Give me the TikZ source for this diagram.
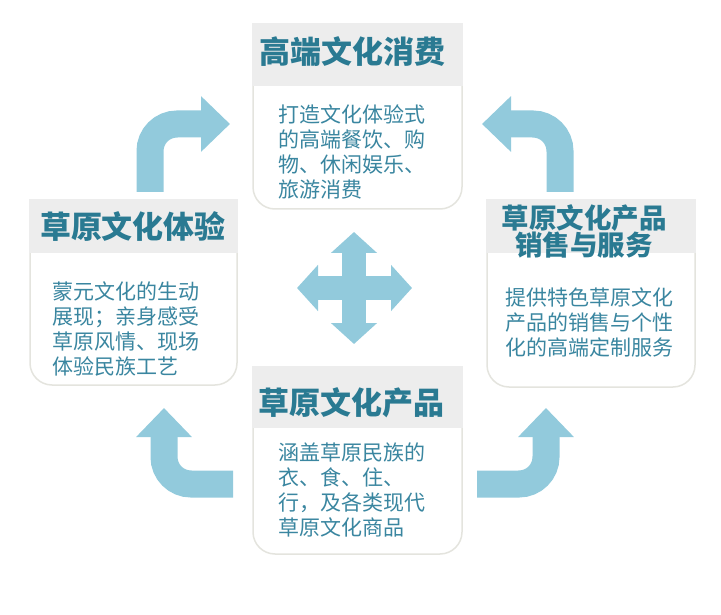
\documentclass[tikz,border=0pt]{standalone}
\usepackage{fontspec}
\newfontfamily\cjk{Noto Sans CJK SC}
\usetikzlibrary{arrows.meta}
\definecolor{headgray}{RGB}{237,237,237}
\definecolor{edgegray}{RGB}{228,228,222}
\definecolor{titleteal}{RGB}{42,122,146}
\definecolor{bodyteal}{RGB}{58,134,160}
\definecolor{flowblue}{RGB}{146,202,220}

\begin{document}
\begin{tikzpicture}[x=1pt,y=-1pt,
    card/.style={draw=edgegray, line width=1.5pt, fill=white, rounded corners=22pt},
    head/.style={fill=headgray},
    title/.style={text=titleteal, inner sep=0pt, align=center, font=\cjk\bfseries\fontsize{31}{35}\selectfont},
    body/.style={text=bodyteal, inner sep=0pt, align=left, anchor=base west, font=\cjk\fontsize{21}{25}\selectfont},
    flow/.style={draw=flowblue, line width=27pt, rounded corners=27pt, -{Triangle[width=54pt,length=29pt]}},
    cross/.style={draw=flowblue, line width=24pt, {Triangle[width=45pt,length=21pt]}-{Triangle[width=45pt,length=21pt]}}]
        \useasboundingbox (0,0) rectangle (721,615);

        \coordinate (n) at (354,232);
        \coordinate (s) at (354,344);
        \coordinate (w) at (297,288);
        \coordinate (e) at (412,288);

        % curved arrows round the cards
        \draw[flow] (150,192) |- (230,124);
        \draw[flow] (560,192) |- (482,124);
        \draw[flow] (233,484) -| (164,408);
        \draw[flow] (477,484) -| (546,408);

        % four-way arrow in the middle
        \draw[cross] (n) -- (s);
        \draw[cross] (w) -- (e);

        % cards
        \draw[card] (253,24) rectangle (462,209);
        \fill[head] (252.2,23.2) rectangle (462.8,86);
        \draw[card] (30,200) rectangle (237,385);
        \fill[head] (29.2,199.2) rectangle (237.8,253);
        \draw[card] (487,200) rectangle (695,387);
        \fill[head] (486.2,199.2) rectangle (695.8,253);
        \draw[card] (253,367) rectangle (462,554);
        \fill[head] (252.2,366.2) rectangle (462.8,428);

        % base anchor sits on the last line
        \node[title] (toptitle) at (352,52) {高端文化消费};
        \node[body] (toptext) at (278,197.5) {打造文化体验式\\的高端餐饮、购\\物、休闲娱乐、\\旅游消费};

        \node[title] (lefttitle) at (133,227) {草原文化体验};
        \node[body] (lefttext) at (52,374.5) {蒙元文化的生动\\展现；亲身感受\\草原风情、现场\\体验民族工艺};

        \node[title, font=\cjk\bfseries\fontsize{27.5}{27}\selectfont] (righttitle) at (584,231.5) {草原文化产品\\销售与服务};
        \node[body] (righttext) at (505,355.5) {提供特色草原文化\\产品的销售与个性\\化的高端定制服务};

        \node[title] (basetitle) at (351,403) {草原文化产品};
        \node[body] (basetext) at (278,535) {涵盖草原民族的\\衣、食、住、\\行，及各类现代\\草原文化商品};
    \end{tikzpicture}
\end{document}
